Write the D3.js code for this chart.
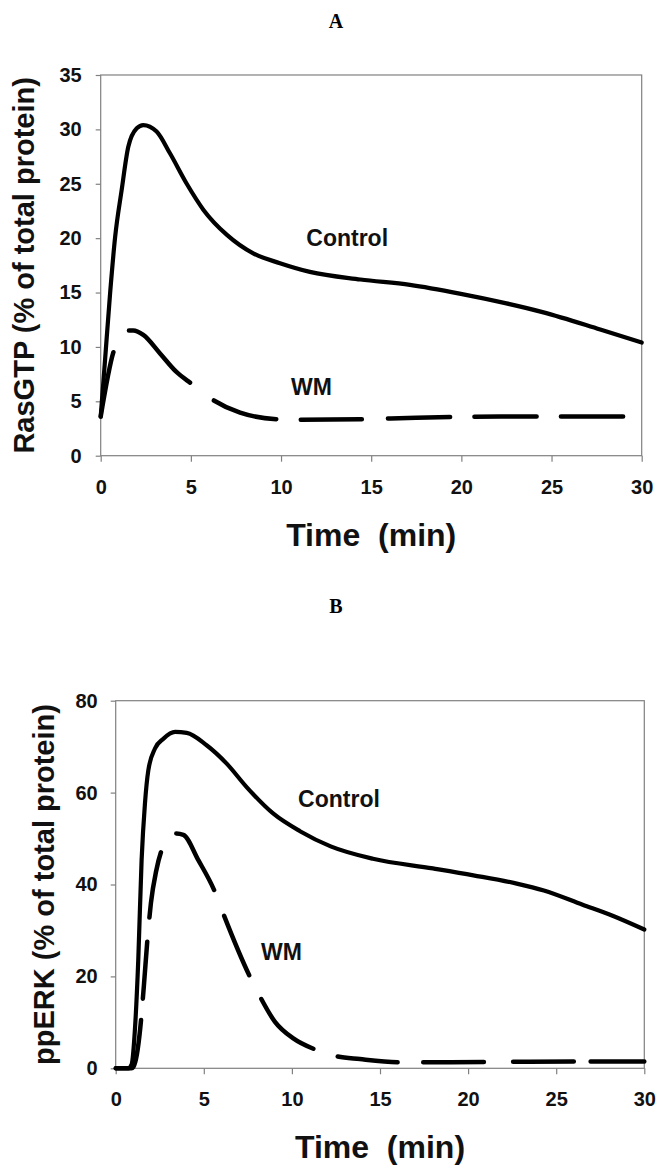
<!DOCTYPE html>
<html>
<head>
<meta charset="utf-8">
<script src="https://cdn.jsdelivr.net/npm/d3@7"></script>
<style>
  body { margin: 0; background: #fff; }
  svg { display: block; }
</style>
</head>
<body>
<svg id="chart" width="662" height="1172"></svg>
<script>
// Panel A: RasGTP
const rasTimeControl = [0, 0.25, 0.52, 0.8, 1.16, 1.53, 2.0, 2.36, 3.1, 3.84, 4.77, 5.7, 7.0, 8.46, 9.94, 11.6, 14.4, 17.15, 19.9, 22.5, 24.5, 27.7, 30];
const rasControl = [3.6, 9.0, 14.9, 20.1, 24.4, 28.4, 30.1, 30.4, 29.8, 27.8, 25.0, 22.6, 20.3, 18.6, 17.7, 16.9, 16.2, 15.7, 14.9, 14.0, 13.2, 11.6, 10.4];
const rasTimeWM = [0, 0.74, 1.1, 1.44, 1.81, 2.36, 3.29, 4.2, 5.05, 6.16, 7.73, 9.85, 11.0, 14.4, 17.5, 22.5, 30];
const rasWM = [3.6, 9.7, 10.9, 11.5, 11.5, 11.1, 9.4, 7.7, 6.6, 5.2, 3.95, 3.35, 3.3, 3.35, 3.5, 3.6, 3.6];
// gaps of the WM dashes, in minutes
const rasWMGaps = [[0.74, 1.44], [5.05, 6.16], [9.85, 10.96], [14.6, 15.8], [19.5, 20.6], [24.3, 25.4], [29.1, 30]];

// Panel B: ppERK
const erkTimeControl = [0, 0.72, 0.9, 1.1, 1.28, 1.47, 1.66, 1.85, 2.23, 2.7, 3.37, 4.03, 5.16, 6.3, 7.43, 8.95, 10.46, 12.2, 14.6, 18.0, 20.3, 22.76, 24.3, 26.5, 28.2, 30];
const erkControl = [0, 0, 0.8, 9, 23.5, 45.3, 57.6, 64.8, 69.6, 71.7, 73.2, 73.0, 70.3, 66.3, 61.2, 55.4, 51.6, 48.3, 45.6, 43.5, 42.0, 40.2, 38.7, 35.6, 33.2, 30.2];
const erkTimeWM = [0, 0.9, 1.0, 1.2, 1.4, 1.6, 1.8, 2.0, 2.3, 2.6, 3.0, 3.4, 3.84, 4.69, 5.63, 6.1, 7.62, 8.19, 9.04, 10.08, 11.31, 12.45, 13.86, 16.1, 19, 22, 26, 30];
const erkWM = [0, 0, 0.3, 3, 9, 18, 28, 36, 43, 47.4, 50, 51.1, 50.8, 45.3, 38.4, 33.7, 19.9, 15.6, 10.1, 6.5, 4.1, 2.7, 2.0, 1.3, 1.3, 1.4, 1.5, 1.5];
const erkWMGaps = [[1.45, 1.53], [1.8, 1.9], [2.6, 3.3], [5.63, 6.1], [7.62, 8.19], [11.31, 12.45], [16.1, 17.3], [21.0, 22.4], [26.1, 26.8]];

const timeTicks = [0, 5, 10, 15, 20, 25, 30];
const rasTicks = [0, 5, 10, 15, 20, 25, 30, 35];
const erkTicks = [0, 20, 40, 60, 80];

const seriesNames = ['Control', 'WM'];
const rasLabelPos = [[11.4, 19.3], [10.55, 5.6]];
const erkLabelPos = [[10.35, 56.8], [8.25, 23.5]];

const svg = d3.select('#chart');
svg.append('rect').attr('width', 662).attr('height', 1172).attr('fill', '#fff');

const zip = (ts, vs) => ts.map((t, i) => [t, vs[i]]);

// path length where the path reaches screen x (path is monotone in x)
function lengthAtX(node, px) {
  let lo = 0;
  let hi = node.getTotalLength();
  for (let k = 0; k < 40; k++) {
    const mid = (lo + hi) / 2;
    if (node.getPointAtLength(mid).x < px) lo = mid; else hi = mid;
  }
  return (lo + hi) / 2;
}

function drawPanel(p) {
  const x = d3.scaleLinear().domain([0, 30]).range([p.left, p.right]);
  const y = d3.scaleLinear().domain([0, p.yMax]).range([p.bottom, p.top]);
  const g = svg.append('g');

  // panel letter
  g.append('text')
    .attr('x', 336)
    .attr('y', p.letterY)
    .attr('text-anchor', 'middle')
    .style('font-family', '"Liberation Serif", "Times New Roman", serif')
    .style('font-weight', 'bold')
    .style('font-size', '20px')
    .text(p.letter);

  // frame
  g.append('rect')
    .attr('x', p.left)
    .attr('y', p.top)
    .attr('width', p.right - p.left)
    .attr('height', p.bottom - p.top)
    .attr('fill', 'none')
    .attr('stroke', '#808080')
    .attr('stroke-width', 1.2);

  const yAxis = g.append('g')
    .attr('transform', `translate(${p.left},0)`)
    .call(d3.axisLeft(y).tickValues(p.yTicks).tickSize(5).tickPadding(p.yPad).tickFormat(d3.format('d')));

  const xAxis = g.append('g')
    .attr('transform', `translate(0,${p.bottom})`)
    .call(d3.axisBottom(x).tickValues(timeTicks).tickSize(6).tickPadding(18).tickFormat(d3.format('d')));

  [xAxis, yAxis].forEach(a => {
    a.select('.domain').remove();
    a.selectAll('line').attr('stroke', '#808080').attr('stroke-width', 1.2);
    a.selectAll('text')
      .attr('fill', '#111')
      .style('font-family', '"Liberation Sans", Arial, sans-serif')
      .style('font-weight', 'bold')
      .style('font-size', '20px');
  });

  // axis titles
  g.append('text')
    .attr('x', (p.left + p.right) / 2)
    .attr('y', p.bottom + 90)
    .attr('text-anchor', 'middle')
    .attr('fill', '#111')
    .style('font-family', '"Liberation Sans", Arial, sans-serif')
    .style('font-weight', 'bold')
    .style('font-size', '32px')
    .text('Time\u00a0 (min)');

  g.append('text')
    .attr('transform', `translate(${p.yTitleX},${(p.top + p.bottom) / 2}) rotate(-90)`)
    .attr('text-anchor', 'middle')
    .attr('fill', '#111')
    .style('font-family', '"Liberation Sans", Arial, sans-serif')
    .style('font-weight', 'bold')
    .style('font-size', '29px')
    .text(p.yTitle);

  const line = d3.line()
    .x(d => x(d[0]))
    .y(d => y(d[1]))
    .curve(d3.curveMonotoneX);

  g.append('path')
    .datum(zip(p.tControl, p.control))
    .attr('d', line)
    .attr('fill', 'none')
    .attr('stroke', '#000')
    .attr('stroke-width', 4.2)
    .attr('stroke-linejoin', 'round')
    .attr('stroke-linecap', 'round');

  const wmWidth = 4.5;
  const wmPath = g.append('path')
    .datum(zip(p.tWM, p.wm))
    .attr('d', line)
    .attr('fill', 'none')
    .attr('stroke', '#000')
    .attr('stroke-width', wmWidth)
    .attr('stroke-linejoin', 'round')
    .attr('stroke-linecap', 'round');

  // dash pattern placed so the gaps fall where the reference shows them
  const node = wmPath.node();
  const total = node.getTotalLength();
  const r = wmWidth / 2;
  const dash = [];
  let start = 0;
  p.gaps.forEach(([a, b]) => {
    const la = lengthAtX(node, x(a));
    const lb = b >= 30 ? total : lengthAtX(node, x(b));
    dash.push(Math.max(0.1, la - start - (start === 0 ? r : 2 * r)));
    dash.push(lb - la + 2 * r);
    start = lb;
  });
  if (start < total) dash.push(total - start, 1000);
  wmPath.attr('stroke-dasharray', dash.map(d => d.toFixed(1)).join(' '));

  g.selectAll('.series-label')
    .data(seriesNames)
    .enter()
    .append('text')
    .attr('class', 'series-label')
    .attr('x', (d, i) => x(p.labelPos[i][0]))
    .attr('y', (d, i) => y(p.labelPos[i][1]))
    .attr('fill', '#111')
    .style('font-family', '"Liberation Sans", Arial, sans-serif')
    .style('font-weight', 'bold')
    .style('font-size', '23px')
    .text(d => d);
}

drawPanel({
  letter: 'A', letterY: 28,
  left: 100.7, right: 641.7, top: 75, bottom: 455.7,
  yMax: 35, yTicks: rasTicks, yPad: 14,
  yTitle: 'RasGTP (% of total protein)', yTitleX: 34,
  tControl: rasTimeControl, control: rasControl,
  tWM: rasTimeWM, wm: rasWM, gaps: rasWMGaps,
  labelPos: rasLabelPos
});

drawPanel({
  letter: 'B', letterY: 613,
  left: 115.7, right: 644.3, top: 700.7, bottom: 1068.3,
  yMax: 80, yTicks: erkTicks, yPad: 13,
  yTitle: 'ppERK (% of total protein)', yTitleX: 54,
  tControl: erkTimeControl, control: erkControl,
  tWM: erkTimeWM, wm: erkWM, gaps: erkWMGaps,
  labelPos: erkLabelPos
});
</script>
</body>
</html>
